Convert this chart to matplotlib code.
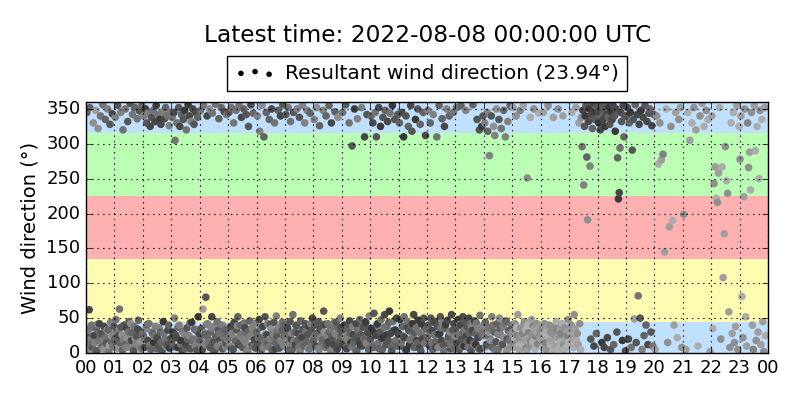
import numpy as np
import matplotlib
matplotlib.use("Agg")
import matplotlib.pyplot as plt

# wind direction samples (deg), one list per hour of the day, in time order
wind_dir = [
    [12, 345, 30, 22, 5, 62, 352, 36, 20, 40, 8, 14, 330, 25, 15, 3, 348, 35, 3, 41, 322, 18, 42, 27, 340, 10, 28, 9, 356, 6, 38, 19, 335, 22, 14, 33, 350, 33, 2, 11, 328, 44, 17, 24, 343, 9, 27, 38],
    [20, 338, 48, 13, 7, 355, 32, 25, 63, 15, 345, 37, 26, 4, 320, 19, 40, 12, 350, 8, 36, 22, 332, 30, 45, 9, 358, 42, 18, 29, 342, 5, 3, 38, 352, 21, 14, 24, 336, 34, 47, 11, 347, 16, 31, 6, 355, 27],
    [25, 340, 8, 19, 350, 35, 330, 41, 18, 345, 42, 11, 325, 5, 338, 30, 28, 348, 15, 24, 332, 38, 355, 6, 22, 342, 10, 36, 335, 30, 328, 16, 3, 346, 45, 28, 336, 20, 352, 9, 12, 340, 33, 40, 326, 7, 344, 21],
    [15, 338, 30, 9, 345, 50, 305, 26, 22, 330, 8, 37, 352, 40, 325, 13, 18, 342, 3, 31, 335, 28, 348, 6, 12, 320, 36, 20, 356, 25, 340, 43, 6, 332, 44, 17, 350, 20, 328, 34, 10, 345, 32, 4, 338, 52, 16, 27],
    [18, 348, 35, 7, 5, 63, 355, 29, 26, 12, 80, 41, 340, 42, 20, 16, 350, 8, 30, 36, 52, 344, 15, 2, 38, 3, 357, 23, 24, 45, 10, 33, 336, 28, 18, 12, 352, 40, 6, 39, 22, 346, 33, 9, 14, 342, 27, 19],
    [22, 345, 10, 31, 38, 352, 28, 6, 5, 330, 44, 20, 17, 348, 33, 39, 52, 12, 355, 14, 25, 40, 338, 27, 8, 20, 350, 43, 36, 15, 342, 4, 30, 3, 325, 24, 46, 24, 356, 35, 11, 34, 344, 9, 19, 42, 7, 29],
    [30, 340, 12, 21, 48, 318, 22, 37, 5, 355, 38, 8, 310, 16, 52, 27, 345, 26, 42, 14, 9, 335, 20, 41, 35, 350, 3, 23, 28, 44, 330, 6, 14, 53, 24, 33, 348, 36, 7, 18, 340, 18, 32, 44, 356, 11, 40, 25],
    [25, 342, 8, 33, 36, 352, 15, 4, 45, 332, 20, 28, 5, 55, 345, 17, 30, 12, 40, 39, 350, 18, 28, 9, 338, 3, 46, 24, 22, 355, 34, 13, 10, 330, 42, 31, 16, 348, 26, 6, 38, 6, 344, 42, 32, 14, 50, 21],
    [18, 335, 40, 27, 10, 352, 28, 7, 45, 5, 326, 34, 22, 36, 14, 19, 348, 60, 30, 41, 8, 340, 25, 12, 42, 16, 355, 30, 33, 3, 330, 23, 20, 38, 12, 44, 346, 27, 44, 5, 6, 338, 35, 17, 15, 50, 24, 37],
    [30, 345, 12, 22, 40, 24, 356, 8, 6, 35, 18, 41, 330, 46, 28, 15, 9, 297, 38, 26, 15, 350, 22, 4, 42, 3, 336, 33, 32, 17, 48, 11, 26, 352, 10, 39, 37, 20, 310, 19, 44, 14, 342, 28, 29, 5, 53, 35],
    [20, 340, 35, 12, 330, 8, 57, 29, 345, 25, 310, 40, 42, 14, 352, 6, 30, 325, 48, 21, 5, 338, 22, 37, 55, 348, 12, 26, 38, 332, 18, 44, 60, 344, 28, 9, 3, 355, 45, 32, 16, 335, 33, 18, 50, 10, 342, 27],
    [28, 330, 48, 10, 15, 345, 38, 24, 310, 52, 22, 5, 340, 5, 44, 36, 325, 32, 12, 19, 355, 40, 318, 42, 26, 55, 8, 30, 335, 36, 18, 14, 350, 47, 30, 7, 328, 3, 42, 25, 20, 345, 50, 38, 14, 312, 34, 22],
    [22, 348, 40, 31, 10, 330, 50, 15, 32, 5, 342, 44, 26, 45, 16, 8, 310, 38, 8, 27, 355, 28, 52, 36, 18, 336, 44, 12, 3, 325, 35, 41, 14, 350, 47, 20, 24, 340, 30, 6, 12, 55, 20, 33, 345, 42, 6, 24],
    [35, 352, 14, 27, 48, 26, 5, 41, 40, 355, 20, 9, 52, 30, 10, 33, 45, 348, 24, 17, 38, 8, 50, 28, 18, 42, 3, 37, 32, 356, 16, 12, 46, 28, 12, 43, 335, 36, 22, 6, 320, 54, 6, 25, 325, 30, 340, 39],
    [25, 330, 44, 9, 12, 345, 318, 31, 36, 283, 20, 18, 340, 52, 8, 40, 325, 30, 312, 4, 16, 350, 42, 27, 5, 335, 50, 35, 26, 322, 14, 12, 38, 348, 22, 43, 310, 46, 3, 20, 332, 32, 18, 8, 355, 28, 40, 34],
    [30, 352, 15, 22, 42, 8, 340, 36, 25, 55, 20, 11, 5, 348, 36, 27, 12, 28, 355, 40, 45, 18, 33, 7, 3, 251, 40, 29, 22, 10, 338, 17, 48, 26, 16, 39, 350, 35, 6, 24, 30, 42, 14, 13, 344, 24, 38, 32],
    [20, 35, 8, 26, 345, 28, 42, 11, 15, 5, 32, 38, 355, 24, 40, 17, 12, 30, 18, 29, 3, 338, 38, 9, 26, 10, 45, 34, 22, 350, 6, 21, 34, 16, 28, 41, 42, 340, 12, 4, 36, 20, 8, 31, 30, 25, 48, 15],
    [30, 15, 40, 345, 22, 8, 55, 35, 352, 18, 28, 12, 330, 42, 5, 338, 296, 348, 241, 325, 340, 355, 281, 191, 332, 350, 268, 20, 342, 322, 358, 10, 335, 346, 28, 352],
    [345, 330, 355, 320, 340, 15, 350, 335, 8, 325, 358, 342, 22, 338, 352, 328, 5, 346, 335, 356, 12, 340, 318, 350, 30, 280, 221, 230, 294, 345, 332, 18, 355, 310, 340, 3],
    [340, 352, 20, 330, 345, 8, 291, 335, 49, 356, 15, 342, 82, 328, 50, 348, 5, 338, 25, 355, 40, 332, 12, 344, 350, 30, 326, 10, 342],
    [5, 340, 271, 330, 277, 285, 145, 350, 15, 181, 325, 190, 40, 345, 22, 335, 352, 8],
    [199, 5, 345, 305, 330, 352, 320, 10, 340, 358, 325, 348, 335, 2],
    [340, 35, 243, 267, 222, 216, 258, 352, 20, 267, 108, 171, 296, 247, 229, 59, 8, 330, 28, 345, 15, 38, 355, 5, 325],
    [278, 340, 81, 22, 224, 350, 52, 10, 330, 266, 288, 234, 345, 40, 5, 355, 290, 18, 325, 30, 250, 348, 12, 335, 45, 2, 352, 25, 320, 8],
]

# gray level of each sample, 0 = black ... 9 = light gray
gray_code = [
    "54637245653472658436752456345726453764583647256354",
    "46537362546374563456273546372456354763524637254635",
    "46251634265524364515261425361424361525463524615243",
    "35142653251436251425361425341625361425346253416254",
    "45362856463526457346253463524563452645365246354625",
    "53642564352645364253642536452635463546253645263546",
    "46352645372645364263546372456352463546352645364253",
    "53642564352645364253642536452635463546372546352645",
    "46352745364263546372546352435624352646352745364263",
    "35241635246352415362413524635241362535241635246352",
    "34152431523415243152431524315234152431524315243152",
    "24135243152431524315243152431524315243152431524315",
    "46352435246352415362413524635241362534635243524635",
    "35241536243524153624352415362435241536243524153624",
    "56473647564736457465374653746573647564736457465374",
    "78697879687986789687789687968796879678968786978796",
    "87978978679879789687987978968797896798797897867987",
    "897989788978879752631347216324223143",
    "213241322132241331224312341252312432",
    "32241533843252316243422343253242",
    "8797868978798897879",
    "789897897897989",
    "8978978979887978798978879",
    "7897879867897868979897898789",
]

hour_labels = ["%02d" % (h % 24) for h in range(25)]
title = "Latest time: 2022-08-08 00:00:00 UTC"
resultant_dir = 23.94

# direction sectors shaded behind the points
sector_edges = [0, 45, 135, 225, 315, 360]
sector_colors = ["#c0e0ff", "#fffbb0", "#ffb0b0", "#baffb4", "#c0e0ff"]

plt.style.use("classic")
plt.rcParams["figure.facecolor"] = "white"
plt.rcParams["savefig.facecolor"] = "white"

times, dirs, grays = [], [], []
for h, (vals, codes) in enumerate(zip(wind_dir, gray_code)):
    n = len(vals)
    for i, (d, c) in enumerate(zip(vals, codes)):
        times.append(h + (i + 0.5) / n)
        dirs.append(d)
        g = 0.17 + 0.056 * int(c)
        grays.append((g, g, g))

fig = plt.figure(figsize=(8, 4), dpi=100)
ax = fig.add_axes([0.1075, 0.1175, 0.8525, 0.6275])

for lo, hi, col in zip(sector_edges[:-1], sector_edges[1:], sector_colors):
    ax.axhspan(lo, hi, color=col, lw=0, zorder=0)

ax.scatter(times, dirs, c=grays, s=30, edgecolors="none", zorder=2)
ax.scatter([], [], c="k", s=16, edgecolors="none",
           label="Resultant wind direction (%.2f°)" % resultant_dir)

ax.set_xlim(0, 24)
ax.set_ylim(0, 360)
ax.set_xticks(range(25))
ax.set_xticklabels(hour_labels)
ax.set_yticks(range(0, 360, 50))
ax.tick_params(labelsize=13)
ax.set_ylabel("Wind direction (°)", fontsize=14)
ax.grid(True, color="k", linestyle=":", linewidth=0.8, zorder=1)
ax.set_axisbelow(False)

ax.legend(loc="lower center", bbox_to_anchor=(0.5, 1.045), fontsize=14.5,
          scatterpoints=3, borderaxespad=0, handletextpad=0.5, fancybox=False)
fig.text(0.534, 0.912, title, ha="center", va="center", fontsize=16.75)

fig.savefig("out.png", dpi=100)
